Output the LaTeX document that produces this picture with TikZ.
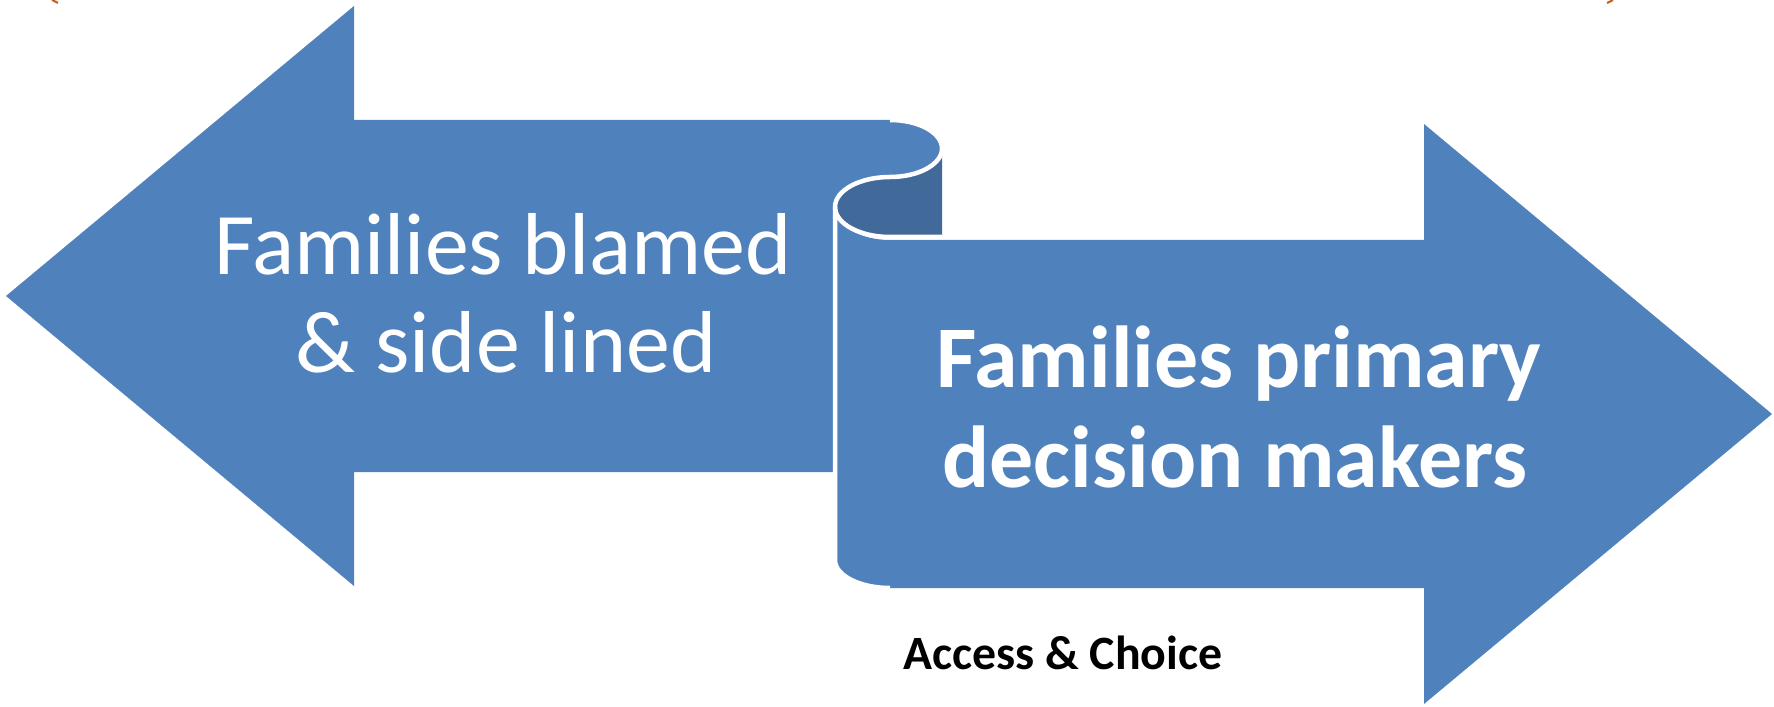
\documentclass[tikz,border=0pt]{standalone}
\usepackage{fontspec}
\setmainfont{Carlito}
\definecolor{blu}{HTML}{4F81BD}
\definecolor{dblu}{HTML}{41699A}
\definecolor{orng}{HTML}{C0601A}
\begin{document}
\begin{tikzpicture}[x=0.01cm,y=0.01cm,
  shp/.style={fill=blu},
  curl/.style={fill=dblu},
  sep/.style={draw=white,line width=0.045cm},
  lt/.style={text=white,inner sep=0pt,anchor=base,font=\fontsize{25}{28}\selectfont},
  rt/.style={text=white,inner sep=0pt,anchor=base,font=\fontsize{25}{28}\selectfont\bfseries},
  captxt/.style={text=black,inner sep=0pt,anchor=base,font=\fontsize{13.6}{16}\selectfont\bfseries}]
\useasboundingbox (0,0) rectangle (1774,-707);
% left arrow
\fill[shp] (6,-296) -- (354,-6) -- (354,-120) -- (890,-120)
  arc[start angle=90,end angle=-90,x radius=52,y radius=28.5]
  arc[start angle=90,end angle=180,x radius=55,y radius=30]
  -- (835,-472) -- (354,-472) -- (354,-586) -- cycle;
% right arrow
\fill[shp] (835,-207) -- (835,-560)
  arc[start angle=180,end angle=270,x radius=55,y radius=28]
  -- (1424,-588) -- (1424,-704) -- (1772,-414) -- (1424,-124) -- (1424,-240)
  -- (890,-240) arc[start angle=270,end angle=180,x radius=55,y radius=33] -- cycle;
% dark curl
\fill[curl] (890,-177) arc[start angle=90,end angle=270,x radius=55,y radius=30]
  -- (942,-237) -- (942,-148.5) arc[start angle=0,end angle=-90,x radius=52,y radius=28.5] -- cycle;
% white separators
\draw[sep] (890,-120) arc[start angle=90,end angle=-90,x radius=52,y radius=28.5]
  arc[start angle=90,end angle=270,x radius=55,y radius=30] -- (942,-237);
\draw[sep] (835,-207) -- (835,-560)
  arc[start angle=180,end angle=270,x radius=55,y radius=28];
% tiny marks
\draw[orng,line width=0.02cm] (52,0) -- (58,-3);
\draw[orng,line width=0.02cm] (1613,0) -- (1607,-3);
% texts
\node[lt] (l1) at (503,-275) {Families blamed};
\node[lt] (l2) at (506,-373) {\& side lined};
\node[rt] (r1) at (1239,-388) {Families primary};
\node[rt] (r2) at (1235,-487) {decision makers};
\node[captxt] (ac) at (1063,-669) {Access \& Choice};
\end{tikzpicture}
\end{document}
